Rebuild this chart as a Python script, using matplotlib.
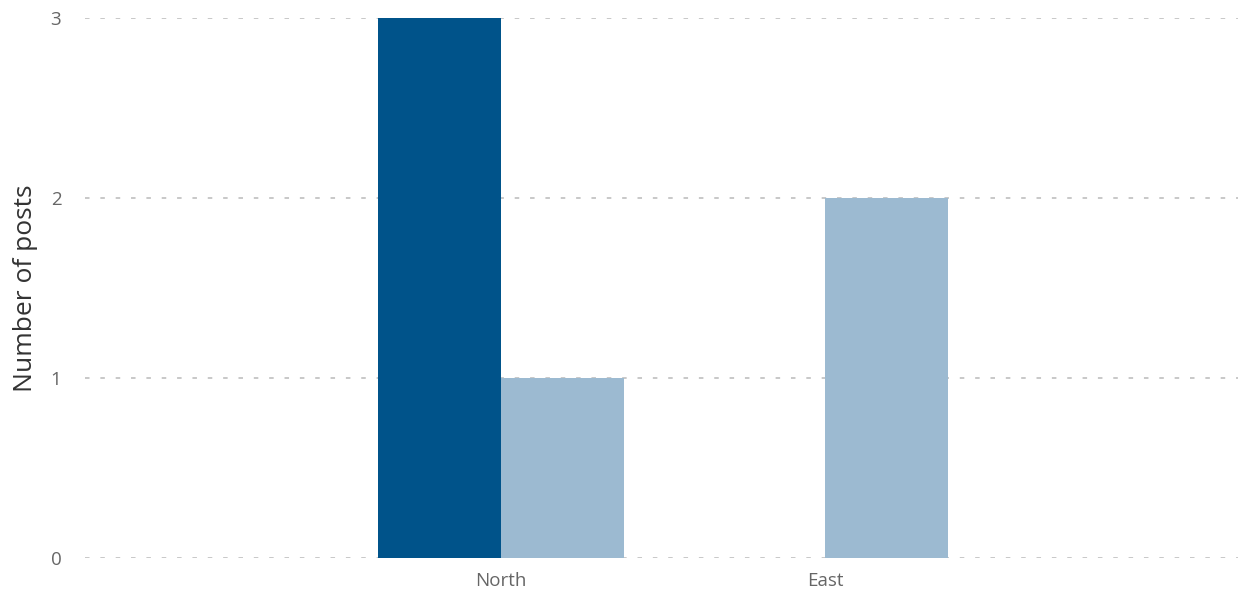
import numpy as np
from matplotlib import pyplot as plt

categories = ["North", "East"]
series_dark = [3, 0]
series_light = [1, 2]

plt.rcParams['font.family'] = ['Open Sans', 'DejaVu Sans']

fig = plt.figure(figsize=(12.48, 5.93), dpi=100)
ax = fig.add_axes([0.068, 0.059, 0.924, 0.9106])

x = np.arange(len(categories))
w = 0.38
ax.bar(x - w / 2, series_dark, width=w, color='#00538a', zorder=3)
ax.bar(x + w / 2, series_light, width=w, color='#9cbad1', zorder=3)

ax.set_xlim(-1.284, 2.275)
ax.set_ylim(0, 3)
ax.set_yticks([0, 1, 2, 3])
ax.set_xticks(x)
ax.set_xticklabels(categories)

ax.grid(axis='y', color='#c4c4c4', linestyle=(0, (2.5, 6)), linewidth=1.3, zorder=0)
for s in ax.spines.values():
    s.set_visible(False)
ax.tick_params(axis='both', length=0, labelsize=13.5, labelcolor='#666666')
ax.tick_params(axis='y', pad=17)
ax.tick_params(axis='x', pad=10)
ax.set_ylabel("Number of posts", fontsize=19, color='#333333', labelpad=9)

fig.savefig("out.png", dpi=100)
